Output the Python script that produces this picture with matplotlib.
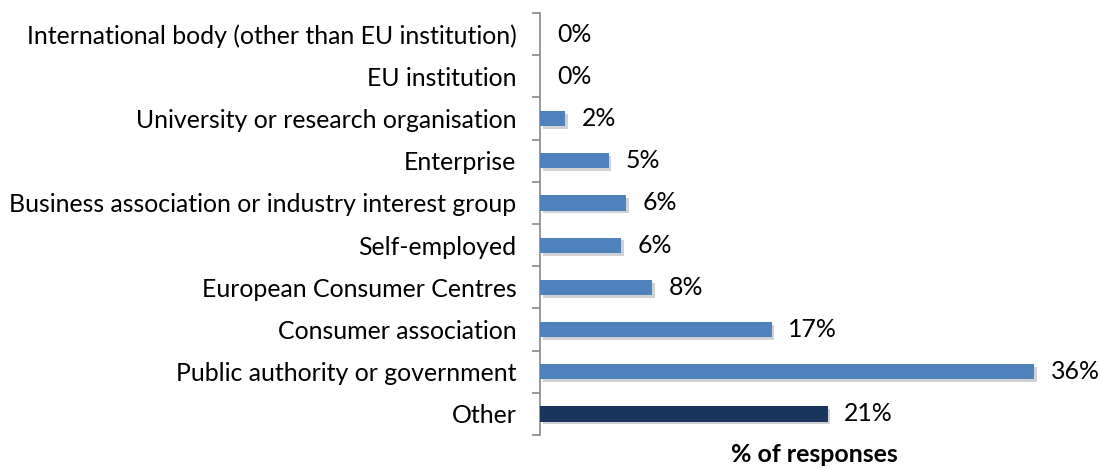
import matplotlib
matplotlib.use('Agg')
from matplotlib import pyplot as plt, patheffects as pe
import numpy as np

categories = ['International body (other than EU institution)', 'EU institution',
              'University or research organisation', 'Enterprise',
              'Business association or industry interest group', 'Self-employed',
              'European Consumer Centres', 'Consumer association',
              'Public authority or government', 'Other']
values = [0.0, 0.0, 1.8, 5.0, 6.3, 5.9, 8.2, 16.9, 36.1, 21.0]
labels = ['0%', '0%', '2%', '5%', '6%', '6%', '8%', '17%', '36%', '21%']
colors = ['#4F81BD'] * 9 + ['#1B365D']

plt.rcParams['font.family'] = ['Lato', 'DejaVu Sans']
fs = 17.9

fig = plt.figure(figsize=(11, 4.68), dpi=100)
ax = fig.add_axes([0.491, 0.0705, 0.498, 0.9015])

y = np.arange(len(categories))
bars = ax.barh(y, values, height=0.36, color=colors, zorder=3)
for b in bars:
    b.set_path_effects([pe.SimplePatchShadow(offset=(2, -2), shadow_rgbFace='#999999', alpha=0.45),
                        pe.Normal()])

for yi, v, t in zip(y, values, labels):
    ax.annotate(t, (v, yi), xytext=(12, 0), textcoords='offset points',
                va='center', ha='left', fontsize=fs)

ax.set_xlim(0, 40)
ax.set_ylim(len(categories) - 0.5, -0.5)
ax.set_yticks(y)
ax.set_yticklabels(categories, fontsize=fs)
ax.set_yticks(np.arange(len(categories) + 1) - 0.5, minor=True)
ax.tick_params(axis='y', which='major', length=0, pad=17)
ax.tick_params(axis='y', which='minor', length=6, color='#888888', width=1.2, direction='out')
ax.set_xticks([])
for s in ['top', 'right', 'bottom']:
    ax.spines[s].set_visible(False)
ax.spines['left'].set_color('#888888')
ax.spines['left'].set_linewidth(1.2)
ax.set_xlabel('% of responses', fontsize=fs, fontweight='bold', labelpad=6)

fig.savefig('out.png', dpi=100)
